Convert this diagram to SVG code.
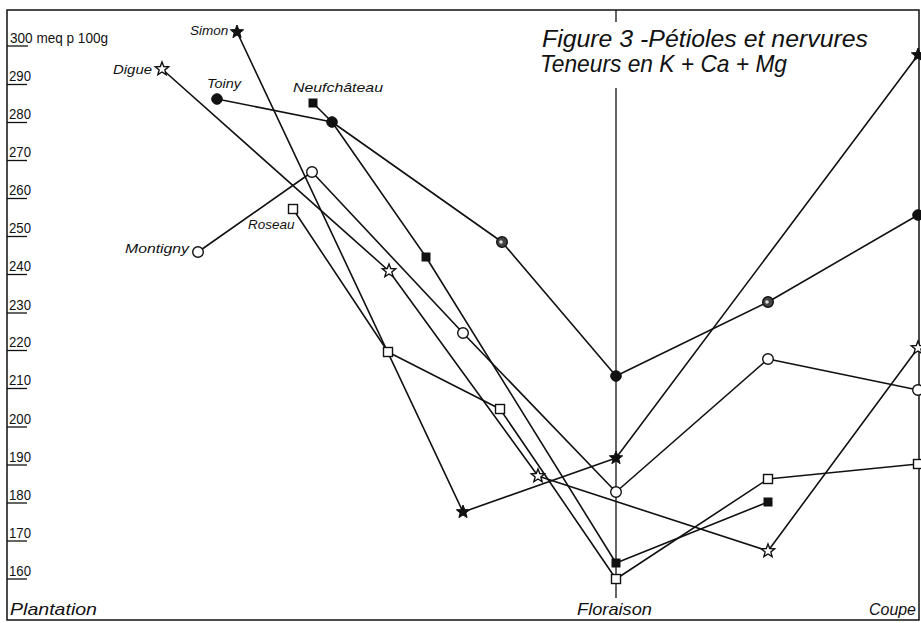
<svg xmlns="http://www.w3.org/2000/svg" xmlns:xlink="http://www.w3.org/1999/xlink" width="921" height="623" viewBox="0 0 921 623">
<style>
.frame{fill:none;stroke:#111;stroke-width:1.5}
.axis{fill:none;stroke:#111;stroke-width:1.3}
.tick{stroke:#111;stroke-width:1.3}
.line{fill:none;stroke:#111;stroke-width:1.6;stroke-linejoin:round}
.tl{font-family:"Liberation Sans","DejaVu Sans",sans-serif;font-size:15px;fill:#111}
.nl{font-family:"Liberation Sans","DejaVu Sans",sans-serif;font-size:13.5px;font-style:italic;fill:#111}
.xl{font-family:"Liberation Sans","DejaVu Sans",sans-serif;font-size:17px;font-style:italic;fill:#111}
.title{font-family:"Liberation Sans","DejaVu Sans",sans-serif;font-size:24px;font-style:italic;fill:#111}
.fill{fill:#111;stroke:#111;stroke-width:1}
.open{fill:#fff;stroke:#111;stroke-width:1.4}
.half{fill:#444;stroke:#111;stroke-width:1.4}
</style>
<defs>
<path id="star" d="M0,-7 L1.76,-2.43 L6.66,-2.16 L2.85,0.93 L4.11,5.66 L0,3 L-4.11,5.66 L-2.85,0.93 L-6.66,-2.16 L-1.76,-2.43 Z"/>
<rect id="sq" x="-4.5" y="-4.5" width="9" height="9"/>
<rect id="fsq" x="-4" y="-4" width="8" height="8"/>
<circle id="circ" r="5.3"/>
</defs>
<rect width="921" height="623" fill="#fff"/>

<g id="frame">
<rect class="frame" x="7" y="10" width="912" height="610"/>
<line class="axis" x1="616" y1="10" x2="616" y2="22"/>
<line class="axis" x1="616" y1="88" x2="616" y2="598"/>
</g>

<g id="y-axis">
<text class="tl" x="10" y="43" textLength="98" lengthAdjust="spacingAndGlyphs">300 meq p 100g</text>
<line class="tick" x1="7" y1="46" x2="28" y2="46"/>
<text class="tl" x="9" y="80.5" textLength="22" lengthAdjust="spacingAndGlyphs">290</text>
<line class="tick" x1="7" y1="84.5" x2="27" y2="84.5"/>
<text class="tl" x="9" y="118.5" textLength="22" lengthAdjust="spacingAndGlyphs">280</text>
<line class="tick" x1="7" y1="122.5" x2="27" y2="122.5"/>
<text class="tl" x="9" y="156.5" textLength="22" lengthAdjust="spacingAndGlyphs">270</text>
<line class="tick" x1="7" y1="160.5" x2="27" y2="160.5"/>
<text class="tl" x="9" y="194.5" textLength="22" lengthAdjust="spacingAndGlyphs">260</text>
<line class="tick" x1="7" y1="198.5" x2="27" y2="198.5"/>
<text class="tl" x="9" y="233" textLength="22" lengthAdjust="spacingAndGlyphs">250</text>
<line class="tick" x1="7" y1="236.5" x2="27" y2="236.5"/>
<text class="tl" x="9" y="271" textLength="22" lengthAdjust="spacingAndGlyphs">240</text>
<line class="tick" x1="7" y1="274.5" x2="27" y2="274.5"/>
<text class="tl" x="9" y="309.5" textLength="22" lengthAdjust="spacingAndGlyphs">230</text>
<line class="tick" x1="7" y1="313" x2="27" y2="313"/>
<text class="tl" x="9" y="347" textLength="22" lengthAdjust="spacingAndGlyphs">220</text>
<line class="tick" x1="7" y1="350.5" x2="27" y2="350.5"/>
<text class="tl" x="9" y="385" textLength="22" lengthAdjust="spacingAndGlyphs">210</text>
<line class="tick" x1="7" y1="388.5" x2="27" y2="388.5"/>
<text class="tl" x="9" y="423.5" textLength="22" lengthAdjust="spacingAndGlyphs">200</text>
<line class="tick" x1="7" y1="427" x2="27" y2="427"/>
<text class="tl" x="9" y="461.5" textLength="22" lengthAdjust="spacingAndGlyphs">190</text>
<line class="tick" x1="7" y1="465" x2="27" y2="465"/>
<text class="tl" x="9" y="499.5" textLength="22" lengthAdjust="spacingAndGlyphs">180</text>
<line class="tick" x1="7" y1="503" x2="27" y2="503"/>
<text class="tl" x="9" y="537.5" textLength="22" lengthAdjust="spacingAndGlyphs">170</text>
<line class="tick" x1="7" y1="541" x2="27" y2="541"/>
<text class="tl" x="9" y="575.5" textLength="22" lengthAdjust="spacingAndGlyphs">160</text>
<line class="tick" x1="7" y1="579" x2="27" y2="579"/>
</g>

<g id="x-axis">
<text class="xl" x="10" y="615" textLength="87" lengthAdjust="spacingAndGlyphs">Plantation</text>
<text class="xl" x="577" y="615" textLength="75" lengthAdjust="spacingAndGlyphs">Floraison</text>
<text class="xl" x="869" y="615" textLength="47" lengthAdjust="spacingAndGlyphs">Coupe</text>
</g>

<g id="title">
<text class="title" x="542" y="47" textLength="326" lengthAdjust="spacingAndGlyphs">Figure 3 -Pétioles et nervures</text>
<text class="title" x="540" y="72" textLength="247" lengthAdjust="spacingAndGlyphs">Teneurs en K + Ca + Mg</text>
</g>

<g id="connectors">
<polyline id="c-simon" class="line" points="237,32 463,512 616,458 918,55"/>
<polyline id="c-digue" class="line" points="162,69 389,271 538,476 768,551 918,348"/>
<polyline id="c-toiny" class="line" points="217,99 332,122 502,242 616,376 768,302 918,215"/>
<polyline id="c-neufchateau" class="line" points="313,103 332,122 426,257 616,563 768,502"/>
<polyline id="c-montigny" class="line" points="198,252 312,172 463,333 616,492 768,359 918,390"/>
<polyline id="c-roseau" class="line" points="293,209 388,352 500,409 616,579 768,479 918,464"/>
</g>

<g id="simon">
<text class="nl" x="190" y="35">Simon</text>
<use xlink:href="#star" href="#star" class="fill" x="237" y="32"/>
<use xlink:href="#star" href="#star" class="fill" x="463" y="512"/>
<use xlink:href="#star" href="#star" class="fill" x="616" y="458"/>
<use xlink:href="#star" href="#star" class="fill" x="918" y="55"/>
</g>

<g id="digue">
<text class="nl" x="113" y="74" textLength="39" lengthAdjust="spacingAndGlyphs">Digue</text>
<use xlink:href="#star" href="#star" class="open" x="162" y="69"/>
<use xlink:href="#star" href="#star" class="open" x="389" y="271"/>
<use xlink:href="#star" href="#star" class="open" x="538" y="476"/>
<use xlink:href="#star" href="#star" class="open" x="768" y="551"/>
<use xlink:href="#star" href="#star" class="open" x="918" y="348"/>
</g>

<g id="toiny">
<text class="nl" x="207" y="88" textLength="34" lengthAdjust="spacingAndGlyphs">Toiny</text>
<use xlink:href="#circ" href="#circ" class="fill" x="217" y="99"/>
<use xlink:href="#circ" href="#circ" class="fill" x="332" y="122"/>
<use xlink:href="#circ" href="#circ" class="half" x="502" y="242"/>
<circle cx="501" cy="242" r="1.8" fill="#ddd"/>
<use xlink:href="#circ" href="#circ" class="fill" x="616" y="376"/>
<use xlink:href="#circ" href="#circ" class="half" x="768" y="302"/>
<circle cx="767" cy="302" r="1.8" fill="#ddd"/>
<use xlink:href="#circ" href="#circ" class="fill" x="918" y="215"/>
</g>

<g id="neufchateau">
<text class="nl" x="293" y="92" textLength="90" lengthAdjust="spacingAndGlyphs">Neufchâteau</text>
<use xlink:href="#fsq" href="#fsq" class="fill" x="313" y="103"/>
<use xlink:href="#fsq" href="#fsq" class="fill" x="426" y="257"/>
<use xlink:href="#fsq" href="#fsq" class="fill" x="616" y="563"/>
<use xlink:href="#fsq" href="#fsq" class="fill" x="768" y="502"/>
</g>

<g id="montigny">
<text class="nl" x="125" y="253" textLength="64" lengthAdjust="spacingAndGlyphs">Montigny</text>
<use xlink:href="#circ" href="#circ" class="open" x="198" y="252"/>
<use xlink:href="#circ" href="#circ" class="open" x="312" y="172"/>
<use xlink:href="#circ" href="#circ" class="open" x="463" y="333"/>
<use xlink:href="#circ" href="#circ" class="open" x="616" y="492"/>
<use xlink:href="#circ" href="#circ" class="open" x="768" y="359"/>
<use xlink:href="#circ" href="#circ" class="open" x="918" y="390"/>
</g>

<g id="roseau">
<text class="nl" x="248" y="229">Roseau</text>
<use xlink:href="#sq" href="#sq" class="open" x="293" y="209"/>
<use xlink:href="#sq" href="#sq" class="open" x="388" y="352"/>
<use xlink:href="#sq" href="#sq" class="open" x="500" y="409"/>
<use xlink:href="#sq" href="#sq" class="open" x="616" y="579"/>
<use xlink:href="#sq" href="#sq" class="open" x="768" y="479"/>
<use xlink:href="#sq" href="#sq" class="open" x="918" y="464"/>
</g>
</svg>
